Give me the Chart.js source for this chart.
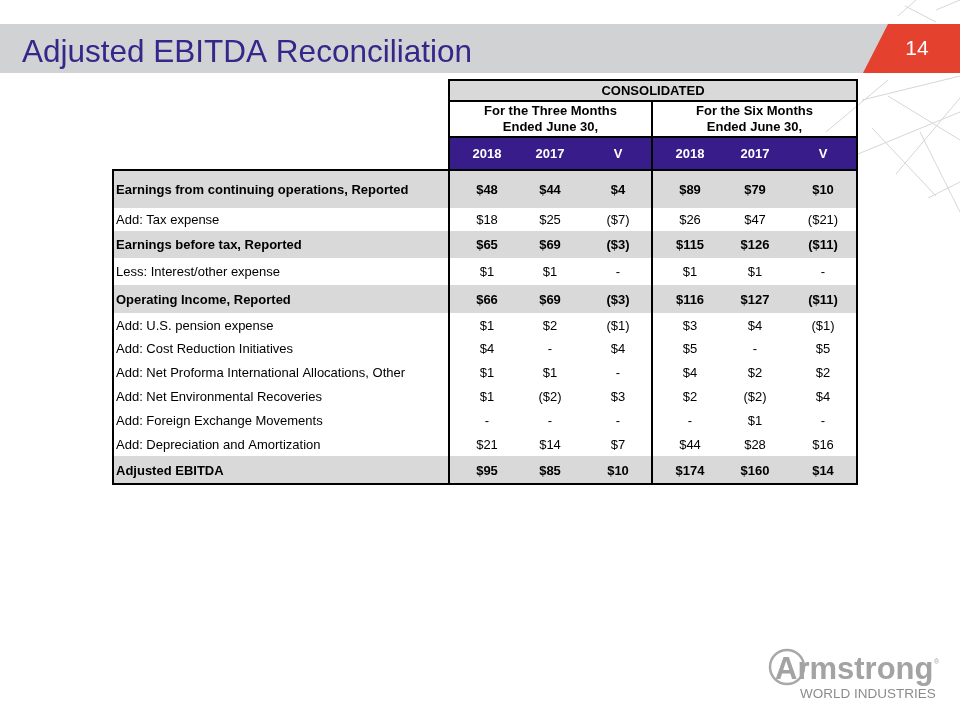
<!DOCTYPE html>
<html>
<head>
<meta charset="utf-8">
<title>Adjusted EBITDA Reconciliation</title>
<script src="https://cdn.jsdelivr.net/npm/chart.js@4.4.1/dist/chart.umd.min.js"></script>
<style>
    html, body { margin: 0; padding: 0; background: #fff; }
    #wrap { width: 960px; height: 720px; }
</style>
</head>
<body>
<div id="wrap"><canvas id="ebitda-table" width="960" height="720"></canvas></div>
<script>
// ---- data ($ millions, null = "-") ----
const rowLabels = [
    'Earnings from continuing operations, Reported',
    'Add: Tax expense',
    'Earnings before tax, Reported',
    'Less: Interest/other expense',
    'Operating Income, Reported',
    'Add: U.S. pension expense',
    'Add: Cost Reduction Initiatives',
    'Add: Net Proforma International Allocations, Other',
    'Add: Net Environmental Recoveries',
    'Add: Foreign Exchange Movements',
    'Add: Depreciation and Amortization',
    'Adjusted EBITDA'
];
const boldRows = [true, false, true, false, true, false, false, false, false, false, false, true];

const three2018 = [48, 18, 65, 1, 66, 1, 4, 1, 1, null, 21, 95];
const three2017 = [44, 25, 69, 1, 69, 2, null, 1, -2, null, 14, 85];
const threeVar = [4, -7, -3, null, -3, -1, 4, null, 3, null, 7, 10];
const six2018 = [89, 26, 115, 1, 116, 3, 5, 4, 2, null, 44, 174];
const six2017 = [79, 47, 126, 1, 127, 4, null, 2, -2, 1, 28, 160];
const sixVar = [10, -21, -11, null, -11, -1, 5, 2, 4, null, 16, 14];

const groupTitle = 'CONSOLIDATED';
const periodLabels = [['For the Three Months', 'Ended June 30,'], ['For the Six Months', 'Ended June 30,']];
const columnLabels = ['2018', '2017', 'V', '2018', '2017', 'V'];

const slideTitle = 'Adjusted EBITDA Reconciliation';
const pageNumber = '14';

// ---- layout (slide units = pixels of the 960x720 slide) ----
const rowEdges = [170, 208, 231, 258, 285, 313, 337, 360, 384, 408, 432, 456, 484];
const colCenters = [487, 550, 618, 690, 755, 823];
const tableLeft = 113, labelRight = 449, midLine = 652, tableRight = 857;
const headTop = 80, consBottom = 101, periodBottom = 137;

const GRAY = '#d9d9d9';
const PURPLE = '#381d8a';
const FONT = '"Liberation Sans", Arial, sans-serif';

function fmt(v) {
    if (v === null) return '-';
    return v < 0 ? '($' + (-v) + ')' : '$' + v;
}

const columns = [three2018, three2017, threeVar, six2018, six2017, sixVar];
const shadedRows = boldRows.map((b, i) => b ? i : -1).filter(i => i >= 0);

// faint triangle mesh in the top-right corner
const decoLines = [
    [[898, 16], [916, 0]], [[905, 6], [936, 22]], [[936, 10], [960, 0]],
    [[862, 100], [960, 76]], [[826, 132], [888, 80]], [[888, 96], [960, 140]],
    [[858, 154], [960, 112]], [[896, 174], [960, 98]], [[920, 132], [960, 212]],
    [[928, 198], [960, 182]], [[872, 128], [936, 196]], [[940, 60], [960, 48]]
];

const slidePlugin = {
    id: 'slide',
    beforeDraw(chart) {
        const ctx = chart.ctx;
        ctx.save();
        ctx.fillStyle = '#ffffff';
        ctx.fillRect(0, 0, chart.width, chart.height);

        ctx.strokeStyle = '#d6d6d6';
        ctx.lineWidth = 1;
        decoLines.forEach(seg => {
            ctx.beginPath();
            ctx.moveTo(seg[0][0], seg[0][1]);
            ctx.lineTo(seg[1][0], seg[1][1]);
            ctx.stroke();
        });

        // title band
        ctx.fillStyle = '#d1d2d4';
        ctx.fillRect(0, 24, 900, 49);
        ctx.fillStyle = '#e5412f';
        ctx.beginPath();
        ctx.moveTo(888, 24);
        ctx.lineTo(960, 24);
        ctx.lineTo(960, 73);
        ctx.lineTo(863, 73);
        ctx.closePath();
        ctx.fill();

        ctx.fillStyle = '#35268a';
        ctx.font = '31.5px ' + FONT;
        ctx.textBaseline = 'alphabetic';
        ctx.textAlign = 'left';
        ctx.fillText(slideTitle, 22, 62);

        ctx.fillStyle = '#ffffff';
        ctx.font = '21px ' + FONT;
        ctx.textAlign = 'center';
        ctx.fillText(pageNumber, 917, 55);

        // logo
        ctx.strokeStyle = '#a8a8a8';
        ctx.lineWidth = 2.5;
        ctx.beginPath();
        ctx.arc(787, 667, 17, 0, Math.PI * 2);
        ctx.stroke();
        ctx.fillStyle = '#a3a3a3';
        ctx.textAlign = 'left';
        ctx.font = 'bold 31px ' + FONT;
        ctx.fillText('Armstrong', 775, 679);
        ctx.font = '7px ' + FONT;
        ctx.fillText('®', 934, 664);
        ctx.fillStyle = '#8c8c8c';
        ctx.font = '13.5px ' + FONT;
        ctx.fillText('WORLD INDUSTRIES', 800, 698);
        ctx.restore();
    }
};

const tablePlugin = {
    id: 'tableText',
    afterDatasetsDraw(chart) {
        const ctx = chart.ctx;
        const px = v => chart.scales.x.getPixelForValue(v);
        const py = v => chart.scales.y.getPixelForValue(v);
        ctx.save();

        // grid lines
        ctx.strokeStyle = '#000000';
        ctx.lineWidth = 2;
        const line = (x1, y1, x2, y2) => {
            ctx.beginPath();
            ctx.moveTo(px(x1), py(y1));
            ctx.lineTo(px(x2), py(y2));
            ctx.stroke();
        };
        const bottom = rowEdges[rowEdges.length - 1];
        line(labelRight - 1, headTop, tableRight + 1, headTop);
        line(labelRight, consBottom, tableRight, consBottom);
        line(labelRight, periodBottom, tableRight, periodBottom);
        line(tableLeft - 1, rowEdges[0], tableRight + 1, rowEdges[0]);
        line(tableLeft - 1, bottom, tableRight + 1, bottom);
        line(tableLeft, rowEdges[0], tableLeft, bottom);
        line(labelRight, headTop, labelRight, bottom);
        line(midLine, consBottom, midLine, bottom);
        line(tableRight, headTop, tableRight, bottom);

        // header text
        ctx.textBaseline = 'middle';
        ctx.textAlign = 'center';
        ctx.fillStyle = '#000000';
        ctx.font = 'bold 13px ' + FONT;
        ctx.fillText(groupTitle, px((labelRight + tableRight) / 2), py((headTop + consBottom) / 2 + 1));
        const periodCenters = [(labelRight + midLine) / 2, (midLine + tableRight) / 2];
        periodLabels.forEach((lines, i) => {
            ctx.fillText(lines[0], px(periodCenters[i]), py(111.5));
            ctx.fillText(lines[1], px(periodCenters[i]), py(127.5));
        });
        ctx.fillStyle = '#ffffff';
        columnLabels.forEach((lab, i) => {
            ctx.fillText(lab, px(colCenters[i]), py((periodBottom + rowEdges[0]) / 2 + 1));
        });

        // body
        ctx.fillStyle = '#000000';
        rowLabels.forEach((lab, r) => {
            const yMid = py((rowEdges[r] + rowEdges[r + 1]) / 2 + 1);
            ctx.font = (boldRows[r] ? 'bold ' : '') + '13px ' + FONT;
            ctx.textAlign = 'left';
            ctx.fillText(lab, px(tableLeft + 3), yMid);
            ctx.textAlign = 'center';
            columns.forEach((col, c) => {
                ctx.fillText(fmt(col[r]), px(colCenters[c]), yMid);
            });
        });
        ctx.restore();
    }
};

const el = document.getElementById('ebitda-table');
new Chart(el, {
    type: 'bar',
    data: {
        datasets: [
            {
                label: 'subtotal rows',
                data: shadedRows.map(r => ({x: (tableLeft + tableRight) / 2, y: [rowEdges[r], rowEdges[r + 1]]})),
                backgroundColor: GRAY,
                barThickness: tableRight - tableLeft,
                grouped: false
            },
            {
                label: 'group header',
                data: [{x: (labelRight + tableRight) / 2, y: [headTop, consBottom]}],
                backgroundColor: GRAY,
                barThickness: tableRight - labelRight,
                grouped: false
            },
            {
                label: 'column header',
                data: [{x: (labelRight + tableRight) / 2, y: [periodBottom, rowEdges[0]]}],
                backgroundColor: PURPLE,
                barThickness: tableRight - labelRight,
                grouped: false
            }
        ]
    },
    options: {
        responsive: false,
        animation: false,
        devicePixelRatio: 1,
        layout: {padding: 0},
        elements: {bar: {borderWidth: 0, inflateAmount: 0}},
        scales: {
            x: {type: 'linear', min: 0, max: 960, offset: false, display: false},
            y: {type: 'linear', min: 0, max: 720, reverse: true, display: false}
        },
        plugins: {
            legend: {display: false},
            tooltip: {enabled: false}
        }
    },
    plugins: [slidePlugin, tablePlugin]
});
</script>
</body>
</html>
